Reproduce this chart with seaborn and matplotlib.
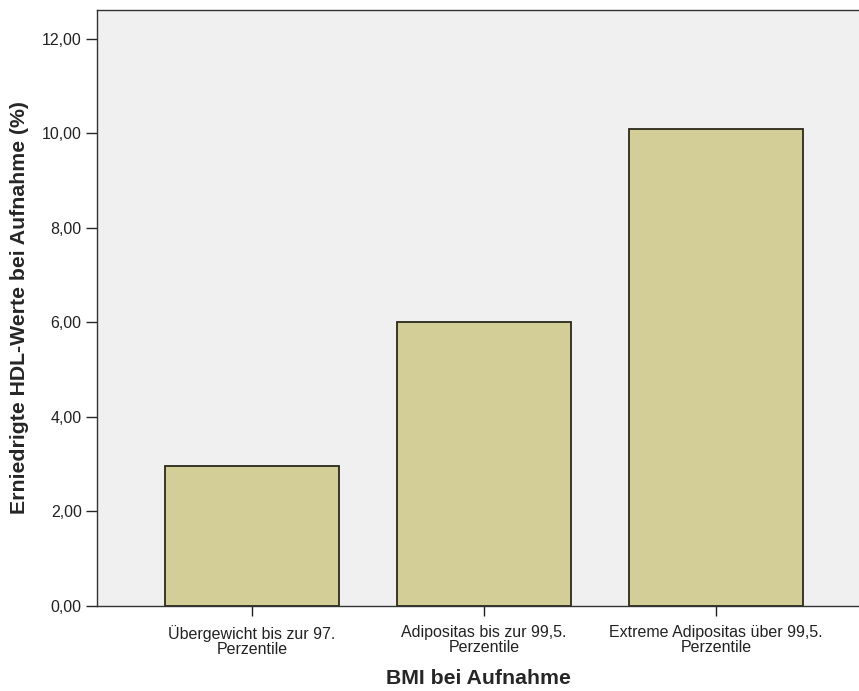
import matplotlib
matplotlib.use("Agg")
import matplotlib.pyplot as plt
import seaborn as sns
import pandas as pd

categories = ["Übergewicht bis zur 97.\nPerzentile",
              "Adipositas bis zur 99,5.\nPerzentile",
              "Extreme Adipositas über 99,5.\nPerzentile"]
values = [2.96, 6.01, 10.10]
yticks = [0, 2, 4, 6, 8, 10, 12]
ytick_labels = ["0,00", "2,00", "4,00", "6,00", "8,00", "10,00", "12,00"]

sns.set_theme(style="white")
plt.rcParams['font.family'] = ['Liberation Sans', 'DejaVu Sans']

df = pd.DataFrame({"cat": categories, "val": values})

fig = plt.figure(figsize=(8.59, 6.91), dpi=100)
ax = fig.add_axes([97/859, 1-606/691, 1-97/859, (606-10)/691])
ax.set_facecolor("#F0F0F0")

sns.barplot(data=df, x="cat", y="val", color="#D3CE97", saturation=1,
            width=0.75, edgecolor="#2a2a1a", linewidth=1.3, ax=ax)

ax.set_ylim(0, 12.61)
ax.set_xlim(-0.668, 2.616)
ax.set_yticks(yticks)
ax.set_yticklabels(ytick_labels, fontsize=11.5, color="#222222")
ax.tick_params(axis='x', labelsize=11.5, colors="#222222", length=7, width=1, direction='out', pad=7)
ax.tick_params(axis='y', length=8, width=1, direction='out', pad=3, left=True)
ax.tick_params(axis='x', bottom=True)
for lbl in ax.get_xticklabels():
    lbl.set_linespacing(1.0)

for s in ["left", "bottom", "top"]:
    ax.spines[s].set_color("#333333")
    ax.spines[s].set_linewidth(1.0)
ax.spines["right"].set_visible(False)

ax.set_xlabel("BMI bei Aufnahme", fontsize=15.3, fontweight="bold", labelpad=8)
ax.set_ylabel("Erniedrigte HDL-Werte bei Aufnahme (%)", fontsize=15.3, fontweight="bold", labelpad=9)

fig.savefig("out.png", dpi=100)
